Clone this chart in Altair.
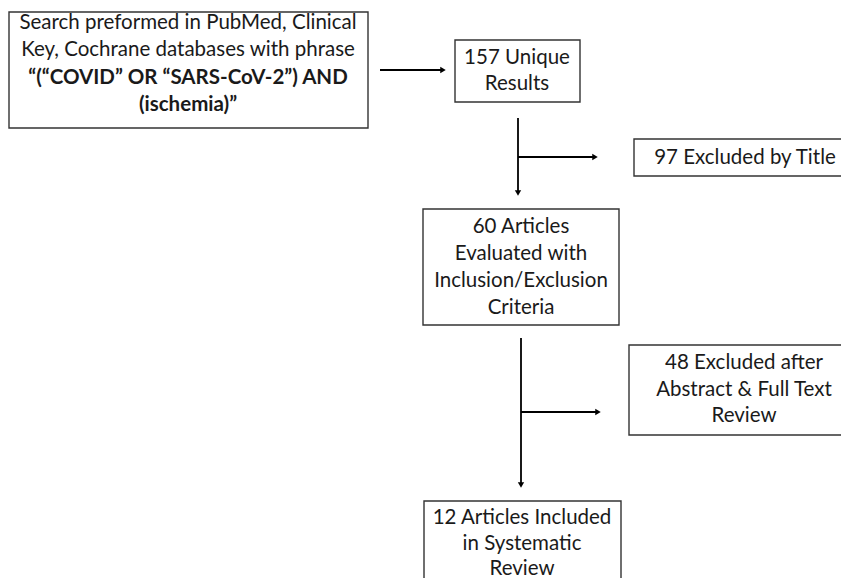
import altair as alt
import pandas as pd

# ---- content ----
box_labels = [
    ["Search preformed in PubMed, Clinical", "Key, Cochrane databases with phrase",
     "\u201c(\u201cCOVID\u201d  OR \u201cSARS-CoV-2\u201d) AND", "(ischemia)\u201d"],
    ["157 Unique", "Results"],
    ["97 Excluded by Title"],
    ["60 Articles", "Evaluated with", "Inclusion/Exclusion", "Criteria"],
    ["48 Excluded after", "Abstract & Full Text", "Review"],
    ["12 Articles Included", "in Systematic", "Review"],
]
bold_lines = [[False, False, True, True], [False, False], [False],
              [False] * 4, [False] * 3, [False] * 3]

# ---- layout (pixel space of the 849x586 page) ----
box_x0 = [9, 455, 634, 423, 629, 424]
box_x1 = [368, 580, 860, 619, 860, 621]
box_y0 = [12, 40, 139, 209, 345, 501]
box_y1 = [128, 102, 176, 325, 435, 600]
text_cx = [188, 517, 745, 521, 744, 522]
text_y = [[23, 50, 78, 105], [58, 84], [158], [227, 254, 281, 308],
          [363, 390, 416], [518, 544, 569]]

arrow_x0 = [380, 518, 518, 521, 521]
arrow_x1 = [442, 518, 594, 521, 597]
arrow_y0 = [70, 118, 157, 338, 412]
arrow_y1 = [70, 192, 157, 484, 412]
head_shape = ["triangle-right", "triangle-down", "triangle-right", "triangle-down", "triangle-right"]
head_x = [443, 518, 595, 521, 598]
head_y = [70, 193, 157, 485, 412]

boxes = pd.DataFrame({"x0": box_x0, "x1": box_x1, "y0": box_y0, "y1": box_y1})
rows = []
for i, lines in enumerate(box_labels):
    for j, t in enumerate(lines):
        rows.append({"x": text_cx[i], "y": text_y[i][j], "t": t,
                     "b": "bold" if bold_lines[i][j] else "normal"})
texts = pd.DataFrame(rows)
arrows = pd.DataFrame({"x0": arrow_x0, "x1": arrow_x1, "y0": arrow_y0, "y1": arrow_y1})
heads = pd.DataFrame({"x": head_x, "y": head_y, "s": head_shape})

W, H = 833, 570
xs = alt.Scale(domain=[8, 8 + W], nice=False, zero=False)
ys = alt.Scale(domain=[8, 8 + H], nice=False, zero=False, reverse=True)
X = lambda f: alt.X(f, type="quantitative", scale=xs, axis=None)
Y = lambda f: alt.Y(f, type="quantitative", scale=ys, axis=None)

rects = alt.Chart(boxes).mark_rect(fill="white", stroke="#333333", strokeWidth=1.4).encode(
    x=X("x0"), x2="x1", y=Y("y0"), y2="y1")

rules = alt.Chart(arrows).mark_rule(color="black", strokeWidth=1.8).encode(
    x=X("x0"), x2="x1", y=Y("y0"), y2="y1")

pts = alt.Chart(heads).mark_point(filled=True, color="black", size=40, opacity=1).encode(
    x=X("x"), y=Y("y"), shape=alt.Shape("s:N", scale=None, legend=None))

normal = alt.Chart(texts).transform_filter("datum.b == 'normal'").mark_text(
    font="Lato", fontSize=20.5, color="#1a1a1a", baseline="middle", align="center").encode(
    x=X("x"), y=Y("y"), text="t:N")
bold = alt.Chart(texts).transform_filter("datum.b == 'bold'").mark_text(
    font="Lato", fontSize=20.5, fontWeight="bold", color="#1a1a1a", baseline="middle", align="center").encode(
    x=X("x"), y=Y("y"), text="t:N")

chart = alt.layer(rects, rules, pts, normal, bold).properties(
    width=W, height=H, autosize=alt.AutoSizeParams(type="none"), padding=0,
    background="white"
).configure_view(stroke=None)

chart.save("out.html", embed_options={"renderer": "svg", "actions": False})
